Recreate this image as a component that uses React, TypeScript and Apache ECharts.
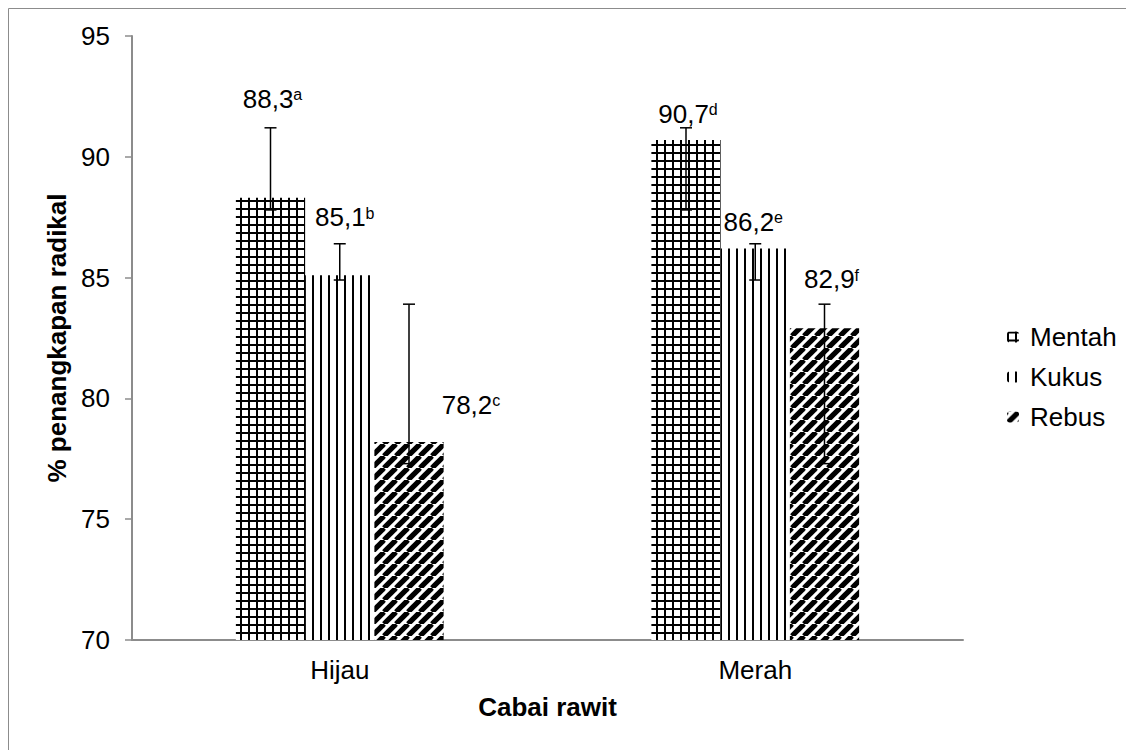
import React, { useEffect, useRef } from 'react';
import * as echarts from 'echarts';

const categories = ['Hijau', 'Merah'];
const seriesNames = ['Mentah', 'Kukus', 'Rebus'];
const mentahValues = [88.3, 90.7];
const kukusValues = [85.1, 86.2];
const rebusValues = [78.2, 82.9];
const mentahLetters = ['a', 'd'];
const kukusLetters = ['b', 'e'];
const rebusLetters = ['c', 'f'];
const mentahErrLow = [87.8, 87.8];
const mentahErrHigh = [91.2, 91.2];
const kukusErrLow = [84.9, 84.9];
const kukusErrHigh = [86.4, 86.4];
const rebusErrLow = [77.3, 77.3];
const rebusErrHigh = [83.9, 83.9];
const yTicks = [70, 75, 80, 85, 90, 95];

// label offsets (pixels) per series, per category
const labelOffsets = [
  [[2, -79], [2, -6]],
  [[5, -38], [-2, -7]],
  [[62, -17], [7, -29]],
];

const FONT = "'Liberation Sans', Arial, sans-serif";

function makePattern(kind: string) {
  const size = kind === 'rebus' ? 12 : 8;
  const c = document.createElement('canvas');
  c.width = size;
  c.height = size;
  const ctx = c.getContext('2d')!;
  ctx.fillStyle = '#fff';
  ctx.fillRect(0, 0, size, size);
  ctx.fillStyle = '#000';
  if (kind === 'mentah') {
    ctx.fillRect(0, 0, size, 2);
    ctx.fillRect(0, 0, 2, size);
  } else if (kind === 'kukus') {
    ctx.fillRect(0, 0, 2, size);
  } else {
    ctx.strokeStyle = '#000';
    ctx.lineWidth = 5.2;
    for (const x0 of [-size, 0, size]) {
      ctx.beginPath();
      ctx.moveTo(x0, size);
      ctx.lineTo(x0 + size, 0);
      ctx.stroke();
    }
  }
  return { image: c.toDataURL(), repeat: 'repeat', imageWidth: size, imageHeight: size } as any;
}

const fmt = (v: number) => v.toFixed(1).replace('.', ',');

export default function App() {
  const ref = useRef<HTMLDivElement>(null);
  useEffect(() => {
    const chart = echarts.init(ref.current!, undefined, { renderer: 'svg' });
    const patterns = [makePattern('mentah'), makePattern('kukus'), makePattern('rebus')];
    const valuesAll = [mentahValues, kukusValues, rebusValues];
    const lettersAll = [mentahLetters, kukusLetters, rebusLetters];
    const lowAll = [mentahErrLow, kukusErrLow, rebusErrLow];
    const highAll = [mentahErrHigh, kukusErrHigh, rebusErrHigh];

    const barSeries = seriesNames.map((name, si) => ({
      type: 'bar',
      name,
      barGap: '0%',
      barCategoryGap: '50%',
      itemStyle: { color: patterns[si] },
      data: valuesAll[si].map((v, ci) => ({
        value: v,
        label: {
          show: true,
          position: 'top',
          distance: 5,
          offset: labelOffsets[si][ci],
          formatter: `{v|${fmt(v)}}{s|${lettersAll[si][ci]}}`,
          rich: {
            v: { fontSize: 26, fontFamily: FONT, color: '#000', lineHeight: 30 },
            s: { fontSize: 16, fontFamily: FONT, color: '#000', verticalAlign: 'top', lineHeight: 26, padding: [3, 0, 0, 0] },
          },
        },
      })),
      z: 2,
    }));

    const errData: number[][] = [];
    seriesNames.forEach((_, si) => {
      categories.forEach((__, ci) => {
        errData.push([ci, lowAll[si][ci], highAll[si][ci], si]);
      });
    });

    chart.setOption({
      animation: false,
      backgroundColor: '#fff',
      textStyle: { fontFamily: FONT },
      graphic: [
        { type: 'line', shape: { x1: 8.5, y1: 8.5, x2: 1126, y2: 8.5 }, style: { stroke: '#8c8c8c', lineWidth: 1 } },
        { type: 'line', shape: { x1: 8.5, y1: 8.5, x2: 8.5, y2: 750 }, style: { stroke: '#8c8c8c', lineWidth: 1 } },
      ],
      grid: { left: 132, right: 163, top: 36, bottom: 110, containLabel: false },
      legend: {
        orient: 'vertical',
        left: 1002,
        top: 318,
        itemWidth: 12,
        itemHeight: 11,
        itemGap: 12,
        data: seriesNames,
        textStyle: { fontSize: 26, fontFamily: FONT, color: '#000', lineHeight: 28, padding: [0, 0, 0, 6] },
      },
      xAxis: {
        type: 'category',
        data: categories,
        name: 'Cabai rawit',
        nameLocation: 'middle',
        nameGap: 54,
        nameTextStyle: { fontSize: 26, fontWeight: 'bold', fontFamily: FONT, color: '#000' },
        axisLine: { lineStyle: { color: '#8c8c8c', width: 2 } },
        axisTick: { show: false },
        axisLabel: { fontSize: 26, fontFamily: FONT, color: '#000', margin: 17 },
      },
      yAxis: {
        type: 'value',
        min: yTicks[0],
        max: yTicks[yTicks.length - 1],
        interval: 5,
        name: '% penangkapan radikal',
        nameLocation: 'middle',
        nameGap: 62,
        nameTextStyle: { fontSize: 26, fontWeight: 'bold', fontFamily: FONT, color: '#000' },
        axisLine: { show: true, lineStyle: { color: '#8c8c8c', width: 2 } },
        axisTick: { show: true, length: 7, lineStyle: { color: '#8c8c8c', width: 1.5 } },
        splitLine: { show: false },
        axisLabel: { fontSize: 26, fontFamily: FONT, color: '#000', margin: 22 },
      },
      series: [
        ...barSeries,
        {
          type: 'custom',
          name: 'err',
          silent: true,
          z: 10,
          encode: { x: 0, y: [1, 2] },
          data: errData,
          renderItem: (params: any, api: any) => {
            const cat = api.value(0);
            const lo = api.value(1);
            const hi = api.value(2);
            const k = api.value(3);
            const band = api.size([1, 0])[0];
            const bw = (band * 0.5) / 3;
            const pLo = api.coord([cat, lo]);
            const pHi = api.coord([cat, hi]);
            const x = pLo[0] + (k - 1) * bw;
            const cap = 6;
            const st = { stroke: '#000', lineWidth: 1.5 };
            return {
              type: 'group',
              children: [
                { type: 'line', shape: { x1: x, y1: pHi[1], x2: x, y2: pLo[1] }, style: st },
                { type: 'line', shape: { x1: x - cap, y1: pHi[1], x2: x + cap, y2: pHi[1] }, style: st },
                { type: 'line', shape: { x1: x - cap, y1: pLo[1], x2: x + cap, y2: pLo[1] }, style: st },
              ],
            };
          },
        },
      ],
    } as any);
    return () => chart.dispose();
  }, []);
  return (
    <div
      ref={ref}
      style={{ position: 'absolute', left: 0, top: 0, width: 1126, height: 750 }}
    />
  );
}
